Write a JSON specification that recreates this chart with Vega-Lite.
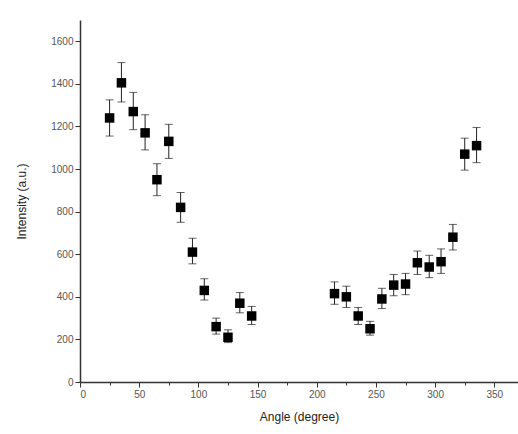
{
  "$schema": "https://vega.github.io/schema/vega-lite/v6.json",
  "autosize": "none",
  "width": 438,
  "height": 362,
  "padding": {"left": 80, "top": 20, "right": 0, "bottom": 52},
  "background": "white",
  "config": {
    "view": {"stroke": null},
    "font": "Liberation Sans",
    "axis": {"grid": false, "domainColor": "#333", "tickColor": "#333", "labelColor": "#555", "titleColor": "#222", "labelFont": "Liberation Sans", "titleFont": "Liberation Sans", "titleFontWeight": "normal", "labelFontSize": 10, "titleFontSize": 12, "domainWidth": 1.5}
  },
  "data": {"values": [
    {"angle": 25, "intensity": 1240, "low": 1155, "high": 1325},
    {"angle": 35, "intensity": 1405, "low": 1315, "high": 1500},
    {"angle": 45, "intensity": 1270, "low": 1185, "high": 1360},
    {"angle": 55, "intensity": 1170, "low": 1090, "high": 1255},
    {"angle": 65, "intensity": 950, "low": 875, "high": 1025},
    {"angle": 75, "intensity": 1130, "low": 1050, "high": 1210},
    {"angle": 85, "intensity": 820, "low": 750, "high": 890},
    {"angle": 95, "intensity": 610, "low": 555, "high": 675},
    {"angle": 105, "intensity": 430, "low": 385, "high": 485},
    {"angle": 115, "intensity": 260, "low": 225, "high": 300},
    {"angle": 125, "intensity": 210, "low": 185, "high": 245},
    {"angle": 135, "intensity": 370, "low": 325, "high": 420},
    {"angle": 145, "intensity": 310, "low": 270, "high": 355},
    {"angle": 215, "intensity": 415, "low": 365, "high": 470},
    {"angle": 225, "intensity": 400, "low": 350, "high": 450},
    {"angle": 235, "intensity": 310, "low": 270, "high": 350},
    {"angle": 245, "intensity": 250, "low": 220, "high": 285},
    {"angle": 255, "intensity": 390, "low": 345, "high": 440},
    {"angle": 265, "intensity": 455, "low": 405, "high": 505},
    {"angle": 275, "intensity": 460, "low": 410, "high": 510},
    {"angle": 285, "intensity": 560, "low": 505, "high": 615},
    {"angle": 295, "intensity": 540, "low": 490, "high": 595},
    {"angle": 305, "intensity": 565, "low": 510, "high": 625},
    {"angle": 315, "intensity": 680, "low": 620, "high": 740},
    {"angle": 325, "intensity": 1070, "low": 995, "high": 1145},
    {"angle": 335, "intensity": 1110, "low": 1030, "high": 1195}
  ]},
  "encoding": {
    "x": {"field": "angle", "type": "quantitative", "scale": {"domain": [0, 370], "nice": false},
      "axis": {"title": "Angle (degree)", "format": "d", "values": [0,25,50,75,100,125,150,175,200,225,250,275,300,325,350],
        "labelExpr": "datum.value % 50 === 0 ? datum.label : ''",
        "tickSize": {"condition": {"test": "datum.value % 50 === 0", "value": 5}, "value": 3},
        "titlePadding": 12}}
  },
  "layer": [
    {"mark": {"type": "rule", "color": "#222", "strokeWidth": 1},
     "encoding": {"y": {"field": "low", "type": "quantitative", "scale": {"domain": [0, 1700], "nice": false},
        "axis": {"title": "Intensity (a.u.)", "format": "d", "values": [0,100,200,300,400,500,600,700,800,900,1000,1100,1200,1300,1400,1500,1600],
          "labelExpr": "datum.value % 200 === 0 ? datum.label : ''",
          "tickSize": {"condition": {"test": "datum.value % 200 === 0", "value": 5}, "value": 3},
          "titlePadding": 22}},
       "y2": {"field": "high"}}},
    {"mark": {"type": "tick", "orient": "horizontal", "color": "#222", "thickness": 1, "size": 8},
     "encoding": {"y": {"field": "low", "type": "quantitative"}}},
    {"mark": {"type": "tick", "orient": "horizontal", "color": "#222", "thickness": 1, "size": 8},
     "encoding": {"y": {"field": "high", "type": "quantitative"}}},
    {"mark": {"type": "point", "shape": "square", "filled": true, "color": "#000", "opacity": 1, "size": 90},
     "encoding": {"y": {"field": "intensity", "type": "quantitative"}}}
  ]
}
